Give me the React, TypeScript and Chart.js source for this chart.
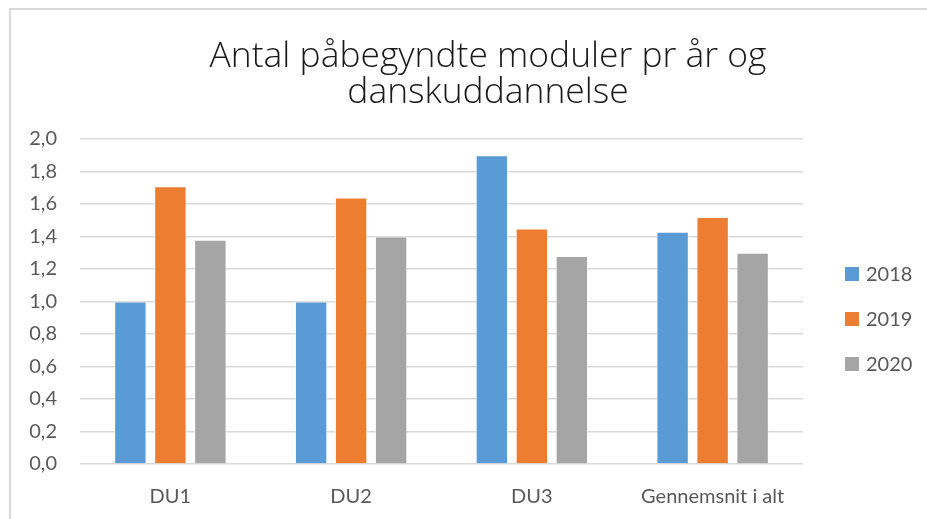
import React, { useEffect, useRef } from "react";
import { Chart, registerables } from "chart.js";

Chart.register(...registerables);

const categories = ["DU1", "DU2", "DU3", "Gennemsnit i alt"];
const seriesNames = ["2018", "2019", "2020"];
const values2018 = [1.0, 1.0, 1.9, 1.43];
const values2019 = [1.71, 1.64, 1.45, 1.52];
const values2020 = [1.38, 1.4, 1.28, 1.3];
const seriesColors = ["#5B9BD5", "#ED7D31", "#A5A5A5"];
const titleLines = ["Antal påbegyndte moduler pr år og", "danskuddannelse"];
const yMin = 0;
const yMax = 2;
const yStep = 0.2;

const FONT = "Lato, 'Open Sans', sans-serif";
const TITLE_FONT = "'Open Sans', 'Noto Sans', sans-serif";
const W = 976;
const H = 540;

const framePlugin = {
  id: "frame",
  beforeDraw(chart: any) {
    const ctx = chart.ctx;
    ctx.save();
    ctx.fillStyle = "#ffffff";
    ctx.fillRect(0, 0, chart.width, chart.height);
    ctx.strokeStyle = "#d9d9d9";
    ctx.lineWidth = 2;
    ctx.strokeRect(10, 9, chart.width + 20, chart.height + 20);
    ctx.restore();
  },
};

const titlePlugin = {
  id: "wideTitle",
  afterDraw(chart: any) {
    const ctx = chart.ctx;
    ctx.save();
    let size = 30;
    ctx.font = `300 ${size}px ${TITLE_FONT}`;
    const w = ctx.measureText(titleLines[0]).width;
    size = (size * 557) / w;
    ctx.font = `300 ${size}px ${TITLE_FONT}`;
    ctx.fillStyle = "#1a1a1a";
    ctx.textAlign = "center";
    ctx.textBaseline = "middle";
    titleLines.forEach((line, i) => {
      ctx.fillText(line, 488, 57 + i * 36);
    });
    ctx.restore();
  },
};

const sideLegendPlugin = {
  id: "sideLegend",
  afterDraw(chart: any) {
    const ctx = chart.ctx;
    const ds = chart.data.datasets;
    const x = 845;
    const startY = 274;
    const gap = 45;
    ctx.save();
    ctx.font = `20px ${FONT}`;
    ctx.textBaseline = "middle";
    ctx.textAlign = "left";
    ds.forEach((d: any, i: number) => {
      const cy = startY + i * gap;
      ctx.fillStyle = d.backgroundColor;
      ctx.fillRect(x, cy - 7, 14, 14);
      ctx.fillStyle = "#595959";
      ctx.fillText(d.label, x + 21, cy + 1);
    });
    ctx.restore();
  },
};

export default function App() {
  const ref = useRef<HTMLCanvasElement | null>(null);

  useEffect(() => {
    document.body.style.margin = "0";
    document.body.style.overflow = "hidden";
    const canvas = ref.current;
    if (!canvas) return;
    const chart = new Chart(canvas, {
      type: "bar",
      data: {
        labels: categories,
        datasets: [values2018, values2019, values2020].map((vals, i) => ({
          label: seriesNames[i],
          data: vals,
          backgroundColor: seriesColors[i],
          borderColor: "rgba(255,255,255,0.6)",
          borderWidth: 1,
          categoryPercentage: 0.664,
          barPercentage: 0.81,
        })),
      },
      options: {
        responsive: false,
        animation: false,
        devicePixelRatio: 1,
        layout: { padding: { left: 0, right: W - 803, top: 139, bottom: 0 } },
        plugins: {
          legend: { display: false },
          tooltip: { enabled: false },
          title: { display: false },
        },
        scales: {
          x: {
            grid: { display: false, drawTicks: false },
            border: { display: false },
            ticks: {
              color: "#595959",
              font: { family: FONT, size: 20 },
              padding: 21,
              maxRotation: 0,
              autoSkip: false,
            },
            afterFit(scale: any) {
              scale.height = H - 464;
            },
          },
          y: {
            min: yMin,
            max: yMax,
            grid: { color: "#d9d9d9", lineWidth: 1.5, drawTicks: false },
            border: { display: false },
            ticks: {
              stepSize: yStep,
              color: "#595959",
              font: { family: FONT, size: 20 },
              padding: 23,
              callback: (v: any) => Number(v).toFixed(1).replace(".", ","),
            },
            afterFit(scale: any) {
              scale.width = 80;
            },
          },
        },
      },
      plugins: [framePlugin, titlePlugin, sideLegendPlugin],
    });
    return () => chart.destroy();
  }, []);

  return (
    <div style={{ position: "absolute", left: 0, top: 0, width: W, height: H }}>
      <canvas ref={ref} width={W} height={H} style={{ width: W, height: H, display: "block" }} />
    </div>
  );
}
